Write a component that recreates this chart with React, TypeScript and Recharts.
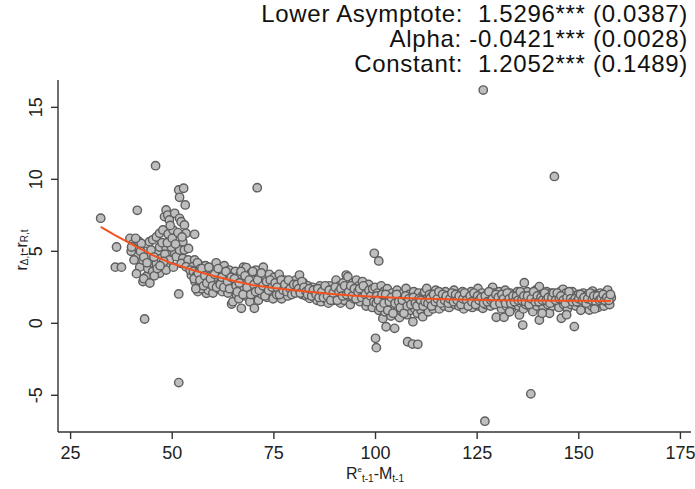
import React from 'react';
import { ScatterChart, Scatter, XAxis, YAxis } from 'recharts';

// header with the fitted model's estimates (standard errors in brackets)
const headerLines = [
  'Lower Asymptote:  1.5296*** (0.0387)',
  'Alpha: -0.0421*** (0.0028)',
  'Constant:  1.2052*** (0.1489)',
];

const xTicks = [25, 50, 75, 100, 125, 150, 175];
const yTicks = [-5, 0, 5, 10, 15];

const obsLeft: [number, number][] = [
  [32.4, 7.3], [36.3, 5.3], [36.0, 3.9], [37.5, 3.9], [41.4, 7.85], [43.2, 0.3], [45.9, 10.95],
  [39.6, 5.9], [40.3, 5.5], [40.8, 5.1], [41.2, 4.7], [39.9, 5.0], [40.6, 4.4], [41.7, 5.7],
  [42.4, 5.55], [42.0, 3.9], [41.2, 3.45], [42.8, 2.9], [43.6, 3.25], [42.8, 4.4], [43.5, 5.0],
  [44.4, 5.67], [44.4, 4.63], [44.0, 3.8], [45.2, 3.6], [45.2, 5.8], [45.0, 4.2], [46.1, 6.0],
  [46.1, 4.16], [46.5, 5.0], [46.9, 6.25], [46.9, 5.3], [46.9, 3.47], [47.3, 4.5], [47.7, 6.48],
  [47.7, 3.93], [48.1, 7.41], [48.5, 7.87], [48.5, 5.21], [48.5, 3.7], [48.2, 4.8], [48.9, 7.52],
  [49.3, 7.18], [49.3, 4.4], [49.6, 5.8], [49.0, 6.2], [50.2, 6.48], [50.6, 7.64], [50.6, 4.86],
  [51.0, 4.63], [50.3, 3.9], [51.8, 7.29], [52.2, 7.06], [51.8, 5.09], [51.6, 2.04], [51.6, -4.12],
  [51.6, 9.26], [52.8, 9.38], [51.8, 8.75], [53.2, 8.22], [53.0, 6.83], [53.4, 6.25], [52.6, 5.67],
  [53.0, 5.09], [52.6, 4.51], [52.2, 4.16], [53.9, 4.4], [53.4, 3.93], [55.5, 6.18], [55.5, 4.4],
  [55.1, 3.93], [54.7, 3.35], [56.3, 3.0], [56.7, 4.05], [57.5, 3.24], [56.3, 2.2], [58.4, 3.7],
  [58.8, 2.54], [58.4, 2.08], [43.0, 3.1], [44.5, 2.8], [45.6, 3.3], [47.9, 4.3], [49.8, 5.3],
  [40.0, 5.3], [41.0, 5.9], [42.2, 5.0], [43.0, 4.6], [43.8, 4.2], [44.8, 5.1], [45.5, 4.6],
  [46.3, 3.8], [47.0, 4.0], [47.5, 5.6], [48.8, 5.6], [49.5, 6.8], [50.0, 5.9], [50.8, 5.5],
  [51.4, 6.3], [52.4, 6.0], [54.0, 5.2], [54.4, 3.7],
];

const obsMiddle: [number, number][] = [
  [55.2, 3.6], [55.6, 2.9], [55.9, 3.3], [56.2, 4.2], [56.6, 2.6], [56.9, 3.8], [57.2, 2.4],
  [57.6, 3.5], [57.9, 2.9], [58.2, 4.0], [58.6, 3.1], [58.9, 2.3], [59.2, 3.6], [59.5, 2.7],
  [59.8, 3.3], [60.0, 2.1], [60.3, 3.9], [60.6, 2.8], [60.8, 4.2], [61.1, 3.2], [61.4, 2.4],
  [61.7, 3.6], [62.0, 2.9], [62.3, 2.2], [62.5, 3.4], [62.8, 4.0], [63.1, 2.6], [63.4, 3.1],
  [63.7, 2.1], [64.0, 3.7], [64.3, 2.8], [64.6, 1.34], [64.9, 1.5], [64.8, 3.3],
  [65.2, 2.5], [65.5, 3.6], [65.8, 2.0], [66.1, 3.0], [66.4, 1.7], [66.7, 3.4], [67.0, 1.04],
  [67.2, 2.4], [67.5, 3.9], [67.8, 2.8], [68.1, 1.9], [68.2, 3.87], [68.5, 3.2], [68.8, 2.2],
  [69.1, 1.5], [69.4, 3.5], [69.7, 2.6], [70.0, 3.0], [70.2, 1.04], [70.3, 2.0],
  [70.9, 9.42], [70.6, 3.7], [70.9, 2.4], [71.2, 1.6], [71.5, 3.3], [71.8, 2.8], [72.1, 2.0],
  [72.4, 3.9], [72.7, 2.5], [73.0, 3.1], [73.3, 1.8], [73.6, 2.7], [73.9, 3.4], [74.2, 2.2],
  [74.5, 2.9], [74.8, 1.7], [75.1, 3.2], [75.4, 2.4], [75.7, 2.0], [76.0, 2.8], [76.3, 3.4],
  [76.6, 2.2], [76.9, 1.7], [77.2, 2.6], [77.5, 3.0], [77.8, 2.1], [78.1, 2.5], [78.4, 1.9],
  [78.9, 2.66], [79.2, 2.2], [79.6, 2.9], [80.0, 2.4], [80.4, 3.0], [80.8, 2.2], [81.3, 3.35],
  [81.6, 2.6], [82.0, 2.0], [82.3, 2.8], [82.7, 2.3], [83.0, 1.9], [83.4, 2.6], [83.8, 1.73],
  [84.1, 2.2], [84.5, 2.5], [84.9, 1.8], [85.2, 2.3], [85.6, 1.6], [85.9, 2.1], [86.3, 2.6],
  [86.6, 1.5], [87.0, 2.0], [87.3, 2.4], [87.7, 1.7], [88.0, 2.2], [88.4, 1.4], [88.7, 2.6],
  [89.1, 1.9], [89.4, 2.3], [89.8, 1.6], [90.3, 3.0], [90.5, 2.2], [90.8, 1.8], [91.1, 2.6],
  [91.4, 1.4], [91.7, 2.0], [92.0, 2.8], [92.3, 1.6], [92.6, 2.3], [92.8, 3.35], [93.2, 3.24],
  [93.2, 1.9], [93.5, 2.5], [93.8, 1.3], [94.1, 2.1], [94.4, 2.8], [94.7, 1.7], [95.0, 2.3],
  [95.3, 3.0], [95.6, 1.9], [95.9, 2.6], [96.2, 1.5], [96.5, 2.2], [96.8, 2.9], [97.1, 1.8],
  [97.4, 2.4], [97.7, 1.2], [98.0, 2.0], [98.3, 2.7], [98.6, 1.6], [98.9, 2.2], [99.2, 1.1],
  [99.5, 1.9], [99.7, 4.86], [100.8, 4.33],
  // denser core of the band
  [55.4, 3.1], [55.8, 2.4], [56.4, 3.5], [56.8, 3.0], [57.3, 3.8], [57.7, 2.6], [58.0, 3.3],
  [58.5, 2.8], [59.0, 3.9], [59.4, 3.1], [59.9, 2.6], [60.4, 3.4], [60.9, 2.5], [61.3, 3.8],
  [61.8, 2.7], [62.2, 3.2], [62.7, 2.5], [63.2, 3.6], [63.6, 2.9], [64.1, 2.4], [64.5, 3.2],
  [65.3, 3.1], [65.7, 2.6], [66.0, 2.2], [66.5, 2.8], [66.9, 3.6], [67.4, 2.0], [67.9, 3.3],
  [68.4, 2.5], [68.9, 3.0], [69.3, 2.0], [69.8, 3.6], [70.1, 2.7], [70.5, 2.2], [71.0, 3.0],
  [71.4, 2.3], [71.9, 3.5], [72.3, 2.6], [72.8, 1.9], [73.2, 2.9], [73.7, 2.3], [74.1, 3.0],
  [74.6, 2.5], [75.3, 2.8], [75.8, 2.5], [76.4, 2.0], [76.8, 3.0], [77.3, 2.3], [77.7, 2.7],
  [78.2, 2.2], [78.6, 3.0], [79.0, 2.4], [79.4, 2.0], [79.9, 2.7], [80.3, 2.1], [80.7, 2.7],
  [81.1, 2.4], [81.5, 2.1], [81.9, 2.9], [82.4, 2.5], [82.9, 2.2], [83.3, 2.0], [83.7, 2.4],
  [84.3, 1.9], [84.7, 2.3], [85.4, 2.0], [85.8, 2.4], [86.1, 1.8], [86.8, 2.2], [87.2, 1.8],
  [87.6, 2.6], [88.2, 1.9], [88.6, 2.3], [89.0, 1.6], [89.6, 2.1], [90.1, 2.5], [90.6, 1.6],
  [91.0, 2.2], [91.5, 2.4], [91.9, 1.9], [92.4, 2.6], [92.9, 2.0], [93.4, 2.2], [93.9, 2.6],
  [94.3, 1.9], [94.8, 2.4], [95.2, 1.7], [95.7, 2.2], [96.1, 2.4], [96.6, 1.8], [97.0, 2.6],
  [97.5, 2.0], [97.9, 1.5], [98.4, 2.3], [98.8, 1.9], [99.3, 2.4], [99.6, 1.5],
];

const obsRight: [number, number][] = [
  [99.9, 2.5], [100.2, 1.4], [100.0, -1.04], [100.2, -1.69], [100.5, 2.1], [100.8, 0.9],
  [101.1, 1.8], [101.4, 2.6], [101.8, 0.34], [101.7, 1.3], [102.0, 2.2], [102.3, 0.8],
  [102.6, -0.24], [102.6, 1.6], [102.9, 2.4], [103.2, 1.1], [103.5, 1.9], [103.8, 0.5],
  [104.1, 2.1], [104.4, 1.3], [104.7, -0.35], [104.7, 0.9], [105.0, 1.7], [105.3, 2.3],
  [105.6, 1.1], [105.9, 0.4], [106.2, 1.8], [106.5, 0.8], [106.8, 2.1], [107.1, 1.3],
  [107.5, 2.42], [107.7, 0.6], [107.9, -1.28], [108.0, 1.6], [108.3, 2.0], [108.6, 0.9],
  [109.1, -1.44], [109.2, 0.11], [109.0, 1.4], [109.4, 2.2], [109.7, 1.0], [110.4, -1.46],
  [110.0, 1.8], [110.3, 0.7], [110.6, 2.1], [110.9, 1.3], [111.2, 0.9], [111.6, 0.46],
  [111.5, 1.9], [111.8, 1.5], [112.1, 2.2], [112.6, 2.42], [112.4, 1.1], [112.7, 1.7],
  [113.0, 0.8], [113.3, 2.0], [113.6, 1.4], [113.9, 1.9], [114.2, 1.0], [114.5, 1.6],
  [114.8, 2.3], [115.1, 1.3], [115.4, 1.9], [115.7, 1.0], [116.0, 2.1], [116.3, 1.5],
  [116.6, 1.8], [116.9, 1.2], [117.2, 2.2], [117.5, 1.6], [117.8, 1.9], [118.1, 1.1],
  [118.4, 2.0], [118.7, 1.4], [119.0, 1.8], [119.3, 2.3], [119.6, 1.3], [119.9, 1.7],
  [120.2, 2.0], [120.5, 1.2], [120.8, 1.8], [121.1, 1.5], [121.4, 2.2], [121.7, 1.0],
  [122.0, 1.7], [122.3, 2.0], [122.6, 1.3], [122.9, 1.9], [123.2, 1.6], [123.5, 2.2],
  [123.8, 1.1], [124.1, 1.8], [124.4, 1.4], [124.7, 2.0], [125.2, 2.42], [125.0, 1.6],
  [125.3, 1.2], [125.6, 1.9], [125.9, 1.5], [126.2, 2.1], [126.4, 1.04], [126.5, 16.2],
  [126.9, -6.8], [126.8, 1.7], [127.1, 1.3], [127.4, 2.0], [127.7, 1.6], [128.0, 1.9],
  [128.3, 1.2], [128.8, 2.5], [128.6, 1.8], [128.9, 1.4], [129.2, 2.1], [129.7, 0.42],
  [129.5, 1.6], [129.8, 1.9], [130.1, 1.3], [130.4, 2.2], [130.7, 1.7], [131.0, 1.0],
  [131.3, 1.9], [131.6, 0.42], [131.6, 1.5], [131.9, 2.3], [132.2, 1.2], [132.5, 1.8],
  [132.8, 1.5], [133.1, 2.1], [133.4, 1.0], [133.7, 1.7], [134.0, 1.3], [134.3, 2.0],
  [134.6, 1.6], [134.9, 2.2], [135.2, 1.2], [135.4, 0.58], [135.5, 1.8], [135.8, 1.4],
  [136.1, 2.1], [136.2, -0.12], [136.6, 2.82], [136.4, 1.0], [136.7, 1.7], [137.0, 1.3],
  [137.3, 2.2], [137.6, 1.6], [137.9, 1.9], [138.2, -4.9], [138.2, 1.1], [138.7, 0.81],
  [138.5, 2.0], [138.8, 1.5], [139.1, 1.8], [139.4, 2.3], [139.7, 1.2], [140.0, 1.7],
  [140.3, 2.55], [140.3, 0.23], [140.6, 1.4], [140.9, 2.0], [141.2, 1.1], [141.5, 1.8],
  [141.8, 1.5], [142.1, 2.2], [142.4, 1.3], [142.8, 0.69], [142.7, 1.9], [143.0, 1.6],
  [143.3, 2.1], [143.6, 1.2], [143.9, 1.7], [144.0, 10.2], [144.2, 2.0], [144.5, 1.4],
  [144.8, 1.8], [145.1, 1.1], [145.4, 2.2], [145.7, 0.35], [145.7, 1.6], [146.1, 2.36],
  [146.0, 1.9], [146.3, 1.3], [146.6, 1.7], [146.9, 2.1], [147.2, 1.0], [147.5, 1.5],
  [147.8, 1.9], [148.1, 1.3], [148.4, 2.2], [148.9, -0.23], [148.7, 1.6], [149.0, 1.9],
  [149.3, 1.2], [149.6, 1.7], [149.9, 2.0], [150.2, 1.4], [150.5, 1.8], [150.8, 1.1],
  [151.1, 2.1], [151.4, 1.5], [151.7, 1.9], [152.0, 1.3], [152.3, 2.0], [152.6, 0.92],
  [152.6, 1.6], [152.9, 1.8], [153.2, 1.2], [153.4, 2.24], [153.5, 1.7], [153.8, 1.4],
  [154.1, 2.0], [154.4, 1.6], [154.7, 1.1], [155.0, 1.8], [155.3, 2.1], [155.6, 1.4],
  [155.9, 1.7], [156.2, 1.2], [156.5, 1.9], [156.8, 1.5], [157.1, 2.31], [157.3, 1.8],
  [158.0, 1.78], [157.6, 1.3],
  // denser core of the band
  [100.3, 1.9], [100.7, 1.6], [101.2, 1.1], [101.6, 2.0], [102.1, 1.4], [102.5, 2.0],
  [103.0, 0.9], [103.4, 1.5], [103.9, 1.8], [104.3, 0.7], [104.8, 1.4], [105.2, 2.0],
  [105.7, 1.5], [106.1, 1.1], [106.6, 1.6], [107.0, 0.7], [107.4, 1.9], [107.8, 1.2],
  [108.2, 1.7], [108.7, 1.3], [109.3, 1.8], [109.8, 1.4], [110.2, 1.2], [110.7, 1.7],
  [111.1, 1.6], [111.7, 1.2], [112.2, 1.5], [112.9, 1.4], [113.4, 1.7], [113.8, 1.2],
  [114.3, 2.0], [114.7, 1.5], [115.2, 1.7], [115.6, 2.2], [116.1, 1.4], [116.5, 2.0],
  [117.0, 1.6], [117.4, 1.9], [117.9, 1.4], [118.3, 1.7], [118.8, 2.1], [119.2, 1.5],
  [119.7, 2.0], [120.1, 1.6], [120.6, 1.9], [121.0, 1.3], [121.5, 1.7], [121.9, 2.1],
  [122.4, 1.6], [122.8, 1.2], [123.3, 1.9], [123.7, 1.5], [124.2, 2.1], [124.6, 1.3],
  [125.1, 1.9], [125.5, 1.6], [126.0, 1.8], [126.6, 1.4], [127.0, 1.9], [127.5, 1.5],
  [127.9, 2.2], [128.4, 1.6], [128.8, 1.7], [129.3, 1.3], [129.6, 2.0], [130.2, 1.8],
  [130.6, 1.4], [131.1, 2.0], [131.5, 1.7], [132.0, 1.4], [132.4, 2.1], [132.9, 1.7],
  [133.3, 1.4], [133.8, 1.9], [134.2, 1.5], [134.7, 1.9], [135.1, 1.6], [135.6, 2.2],
  [136.0, 1.6], [136.5, 1.9], [136.9, 1.5], [137.4, 1.9], [137.8, 1.3], [138.3, 1.7],
  [138.9, 2.2], [139.3, 1.5], [139.8, 1.9], [140.2, 1.5], [140.7, 1.8], [141.1, 1.6],
  [141.6, 2.1], [142.0, 1.6], [142.5, 1.8], [142.9, 1.4], [143.4, 1.8], [143.8, 2.1],
  [144.3, 1.6], [144.7, 2.1], [145.2, 1.7], [145.6, 1.9], [146.2, 1.6], [146.7, 1.4],
  [147.1, 1.8], [147.6, 2.2], [148.0, 1.7], [148.5, 1.5], [149.1, 1.7], [149.5, 1.5],
  [150.0, 1.7], [150.4, 2.0], [150.9, 1.6], [151.3, 1.8], [151.8, 1.4], [152.2, 1.7],
  [152.8, 2.1], [153.3, 1.6], [153.7, 1.9], [154.2, 1.5], [154.6, 1.9], [155.1, 1.6],
  [155.5, 1.7], [156.0, 2.0], [156.4, 1.6], [156.9, 1.8], [157.4, 1.6], [157.8, 2.0],
  [133.0, 0.8], [141.0, 0.7], [147.0, 0.6], [150.5, 0.9], [153.9, 1.0],
];

// fitted curve
const fitX = [32.4, 36, 40, 45, 50, 55, 60, 65, 70, 75, 80, 85, 90, 95, 100, 105, 110, 115, 120, 125, 130, 135, 140, 145, 150, 157.9];
const fitY = [6.7, 6.1, 5.5, 4.75, 4.15, 3.7, 3.3, 2.95, 2.65, 2.45, 2.3, 2.15, 2.02, 1.92, 1.84, 1.78, 1.73, 1.69, 1.66, 1.63, 1.61, 1.59, 1.58, 1.57, 1.56, 1.55];

const points = [...obsLeft, ...obsMiddle, ...obsRight].map(([x, y]) => ({ x, y }));
const fitData = fitX.map((x, i) => ({ x, y: fitY[i] }));

const FONT = '"Liberation Sans", Arial, sans-serif';
const X_DOMAIN: [number, number] = [21.9, 177.6];
const Y_DOMAIN: [number, number] = [-7.55, 16.9];

const Dot = (props: any) => (
  <circle cx={props.cx} cy={props.cy} r={4.2} fill="#bebebe" stroke="#5e5e5e" strokeWidth={1.4} />
);

const YTick = (props: any) => {
  const { x, y, payload } = props;
  return (
    <text x={x - 13} y={y} transform={`rotate(-90, ${x - 13}, ${y})`} textAnchor="middle"
      dominantBaseline="central" fontSize={18} fontFamily={FONT} fill="#222">
      {payload.value}
    </text>
  );
};

export default function App() {
  return (
    <div style={{ position: 'absolute', left: 0, top: 0, width: 695, height: 489, background: '#fff' }}>
      <ScatterChart width={695} height={489} margin={{ top: 80, right: 4, bottom: 0, left: 0 }}>
        <XAxis type="number" dataKey="x" domain={X_DOMAIN} ticks={xTicks} allowDataOverflow
          height={57} tickSize={7} tickMargin={7} stroke="#333" strokeWidth={1.4}
          tick={{ fontSize: 18, fontFamily: FONT, fill: '#222' }} />
        <XAxis xAxisId="top" orientation="top" type="number" dataKey="x" domain={X_DOMAIN}
          allowDataOverflow height={0} tick={false} tickLine={false} stroke="#8a8a8a" strokeWidth={1.4} />
        <YAxis type="number" dataKey="y" domain={Y_DOMAIN} ticks={yTicks} allowDataOverflow
          width={58} tickSize={7} stroke="#333" strokeWidth={1.4} tick={<YTick />} />
        <YAxis yAxisId="right" orientation="right" type="number" dataKey="y" domain={Y_DOMAIN}
          allowDataOverflow width={0} tick={false} tickLine={false} stroke="#8a8a8a" strokeWidth={1.4} />
        <Scatter data={points} shape={<Dot />} isAnimationActive={false} />
        <Scatter data={fitData} line={{ stroke: '#f4511e', strokeWidth: 2 }} lineType="joint"
          shape={() => <g />} isAnimationActive={false} />
      </ScatterChart>
      <svg width={695} height={489} style={{ position: 'absolute', left: 0, top: 0, pointerEvents: 'none' }}
        fontFamily={FONT}>
        {headerLines.map((line, i) => (
          <text key={i} x={688} y={22 + i * 25} textAnchor="end" fontSize={24} letterSpacing={0.7}
            fill="#111" style={{ whiteSpace: 'pre' }}>
            {line}
          </text>
        ))}
        <text x={375} y={479} textAnchor="middle" fontSize={16} fill="#222">
          R<tspan fontSize={8} dy={-7}>e</tspan>
          <tspan fontSize={10} dy={10}>t-1</tspan>
          <tspan fontSize={16} dy={-3}>-M</tspan>
          <tspan fontSize={10} dy={3}>t-1</tspan>
        </text>
        <text transform="rotate(-90, 21, 250)" x={21} y={250} textAnchor="middle"
          dominantBaseline="central" fontSize={16} fill="#222">
          r<tspan fontSize={10} dy={3}>Δ,t</tspan>
          <tspan fontSize={16} dy={-3}>-r</tspan>
          <tspan fontSize={10} dy={3}>R,t</tspan>
        </text>
      </svg>
    </div>
  );
}
